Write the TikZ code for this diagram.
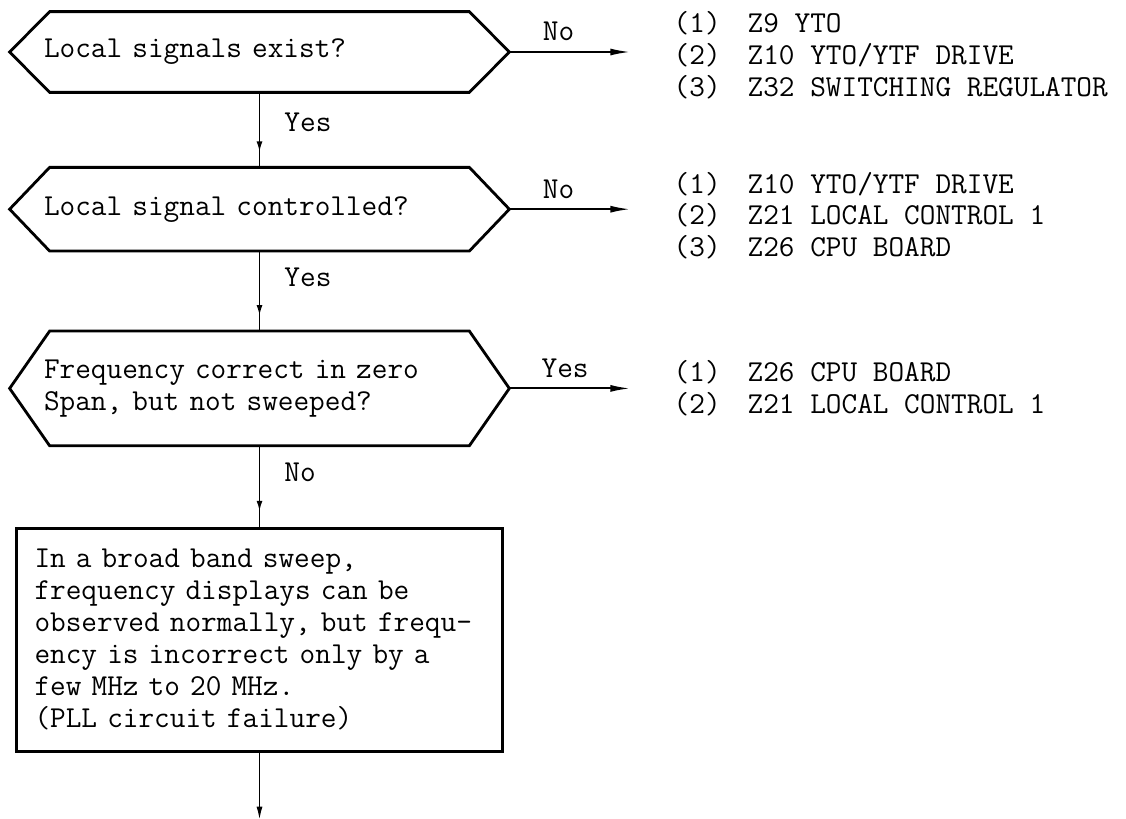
\documentclass[tikz,border=0pt]{standalone}
\usepackage{tikz}
\usetikzlibrary{arrows.meta, positioning, calc, decorations.markings}

% hexagonal decision frame drawn round a question node
\newcommand{\hexframe}[1]{%
  \draw[frame] (#1.west) -- ([xshift=0.8cm]#1.north west) -- ([xshift=-0.8cm]#1.north east)
    -- (#1.east) -- ([xshift=-0.8cm]#1.south east) -- ([xshift=0.8cm]#1.south west) -- cycle;}

\begin{document}
\begin{tikzpicture}[
    font=\ttfamily\fontsize{17.3}{18.2}\selectfont,
    question/.style={rectangle, minimum width=9.98cm, text width=8.62cm, inner xsep=0pt, inner ysep=0pt, align=left},
    frame/.style={draw=black, line width=1.6pt, line join=miter},
    resultbox/.style={rectangle, draw=black, line width=1.6pt, minimum width=9.72cm, minimum height=4.46cm, text width=9.0cm, inner xsep=0.36cm, align=left},
    partlist/.style={inner sep=0pt, align=left, anchor=west},
    lbl/.style={inner sep=0pt},
    line/.style={draw=black, line width=1.1pt, -{Latex[length=4mm, width=1.4mm]}},
    flow/.style={draw=black, line width=1.1pt, postaction={decorate},
        decoration={markings, mark=at position -0.3cm with {\arrow{Latex[length=2.2mm, width=1.2mm]}}}}
]
\useasboundingbox (0,0) rectangle (22.52,-16.36);

% Decisions
\node[question, minimum height=1.6cm] (q1) at (5.19,-1.04) {Local signals exist?};
\node[question, minimum height=1.66cm, below=1.5cm of q1] (q2) {Local signal controlled?};
\node[question, minimum height=2.28cm, below=1.6cm of q2] (q3) {Frequency correct in zero\\Span, but not sweeped?};
\hexframe{q1}
\hexframe{q2}
\hexframe{q3}

\node[resultbox, below=1.62cm of q3] (pll) {In a broad band sweep,\\frequency displays can be\\observed normally, but frequ-\\ency is incorrect only by a\\few MHz to 20 MHz.\\(PLL circuit failure)};
\coordinate[below=1.36cm of pll.south] (out);

% Suspect boards
\node[partlist, right=3.28cm of q1.east, yshift=-0.06cm] (l1) {(1)\hspace{0.54cm}Z9 YTO\\(2)\hspace{0.54cm}Z10 YTO/YTF DRIVE\\(3)\hspace{0.54cm}Z32 SWITCHING REGULATOR};
\node[partlist, right=3.28cm of q2.east, yshift=-0.13cm] (l2) {(1)\hspace{0.54cm}Z10 YTO/YTF DRIVE\\(2)\hspace{0.54cm}Z21 LOCAL CONTROL 1\\(3)\hspace{0.54cm}Z26 CPU BOARD};
\node[partlist, right=3.28cm of q3.east] (l3) {(1)\hspace{0.54cm}Z26 CPU BOARD\\(2)\hspace{0.54cm}Z21 LOCAL CONTROL 1};

% Connections
\draw[line, shorten >=0.86cm] (q1.east) -- node[lbl, above=0.2cm, pos=0.3] {No} (q1.east -| l1.west);
\draw[line, shorten >=0.86cm] (q2.east) -- node[lbl, above=0.2cm, pos=0.3] {No} (q2.east -| l2.west);
\draw[line, shorten >=0.86cm] (q3.east) -- node[lbl, above=0.2cm, pos=0.34] {Yes} (q3.east -| l3.west);

\draw[flow] (q1.south) -- node[lbl, right=0.48cm, pos=0.4] {Yes} (q2.north);
\draw[flow] (q2.south) -- node[lbl, right=0.48cm, pos=0.33] {Yes} (q3.north);
\draw[flow] (q3.south) -- node[lbl, right=0.48cm, pos=0.33] {No} (pll.north);
\draw[draw=black, line width=1.1pt, -{Latex[length=2.8mm, width=1.2mm]}] (pll.south) -- (out);

\end{tikzpicture}
\end{document}
